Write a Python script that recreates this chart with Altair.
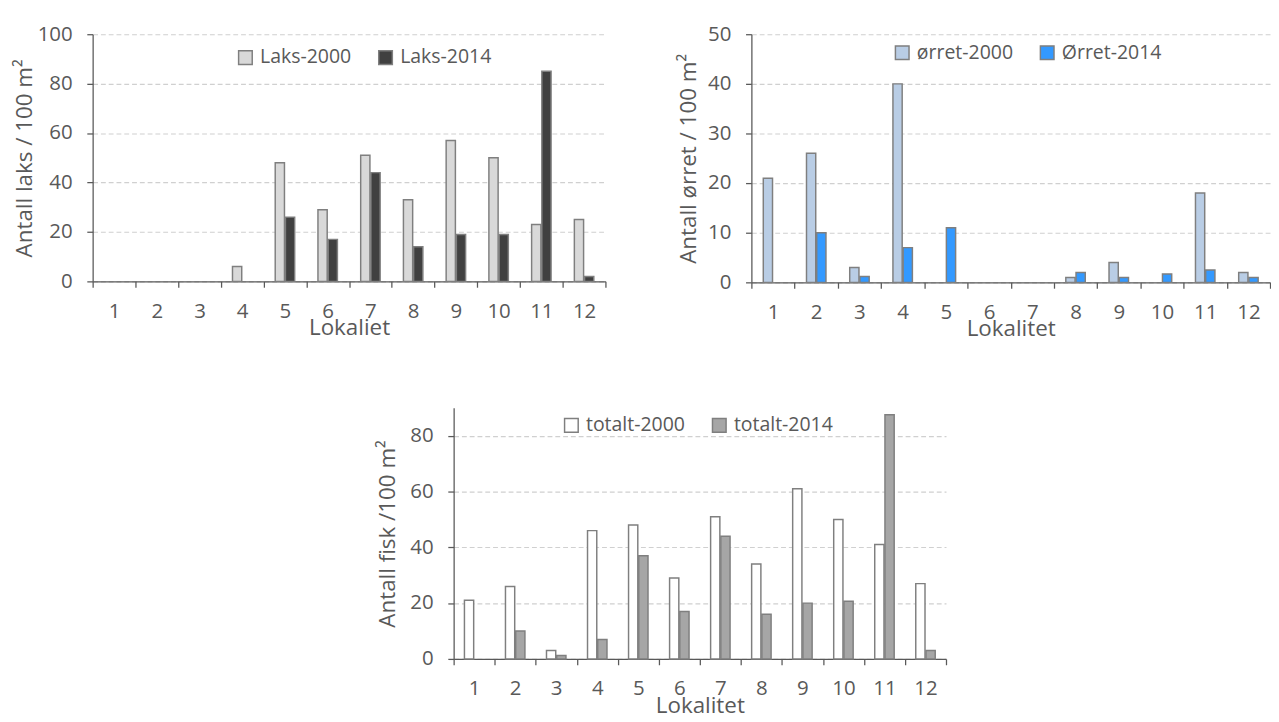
import altair as alt
import pandas as pd

lokaliteter = list(range(1, 13))
laks_2000 = [0, 0, 0, 6, 48, 29, 51, 33, 57, 50, 23, 25]
laks_2014 = [0, 0, 0, 0, 26, 17, 44, 14, 19, 19, 85, 2]
orret_2000 = [21, 26, 3, 40, 0, 0, 0, 1, 4, 0, 18, 2]
orret_2014 = [0, 10, 1.2, 7, 11, 0, 0, 2, 1, 1.7, 2.5, 1]
totalt_2000 = [21, 26, 3, 46, 48, 29, 51, 34, 61, 50, 41, 27]
totalt_2014 = [0, 10, 1.2, 7, 37, 17, 44, 16, 20, 20.7, 87.5, 3]

series_laks = ["Laks-2000", "Laks-2014"]
series_orret = ["ørret-2000", "Ørret-2014"]
series_totalt = ["totalt-2000", "totalt-2014"]

colors_laks = ["#d9d9d9", "#404040"]
colors_orret = ["#b9cde5", "#3399ff"]
colors_totalt = ["#ffffff", "#a6a6a6"]

ticks_laks = [0, 20, 40, 60, 80, 100]
ticks_orret = [0, 10, 20, 30, 40, 50]
ticks_totalt = [0, 20, 40, 60, 80]

TEXT = "#595959"
AXIS = "#595959"
FONT = "Open Sans"
BAR_W = 9.5
BAR_SHIFT = 5.25


def long(names, a, b):
    rows = []
    for i, l in enumerate(lokaliteter):
        rows.append({"Lokalitet": l, "Serie": names[0], "Verdi": a[i]})
        rows.append({"Lokalitet": l, "Serie": names[1], "Verdi": b[i]})
    return pd.DataFrame(rows)


def panel(df, series, colors, ytitle, xtitle, ymax, yticks, w, h,
          lx, ly, ytpad):
    base = (
        alt.Chart(df)
        .transform_filter("datum.Verdi > 0")
        .encode(
            x=alt.X(
                "Lokalitet:O",
                scale=alt.Scale(domain=lokaliteter, paddingInner=0, paddingOuter=0),
                axis=alt.Axis(
                    title=xtitle, labelAngle=0, tickBand="extent", tickSize=6,
                    tickColor=AXIS, tickWidth=1.3, domainColor=AXIS, domainWidth=1.3,
                    labelFontSize=21, labelColor=TEXT, labelPadding=14,
                    titleFontSize=23, titleFontWeight="normal", titleColor=TEXT,
                    titlePadding=-4, grid=False,
                ),
            ),
            y=alt.Y(
                "Verdi:Q",
                scale=alt.Scale(domain=[0, ymax], nice=False),
                axis=alt.Axis(
                    title=ytitle, values=yticks, tickSize=6, tickColor=AXIS,
                    tickWidth=1.3, domainColor=AXIS, domainWidth=1.3,
                    grid=True, gridDash=[5, 3], gridColor="#d0d0d0", gridWidth=1.2,
                    labelFontSize=21, labelColor=TEXT, labelPadding=15,
                    titleFontSize=23, titleFontWeight="normal", titleColor=TEXT,
                    titlePadding=ytpad,
                ),
            ),
            fill=alt.Fill(
                "Serie:N",
                scale=alt.Scale(domain=series, range=colors),
                legend=alt.Legend(
                    title=None, orient="none", legendX=lx, legendY=ly,
                    direction="horizontal", symbolType="square", symbolSize=196,
                    symbolStrokeColor="#7f7f7f", symbolStrokeWidth=1.5,
                    labelFontSize=20, labelColor=TEXT, labelOffset=5,
                    columnPadding=25, padding=0,
                ),
            ),
        )
    )
    b1 = base.transform_filter(alt.datum.Serie == series[0]).mark_bar(
        width=BAR_W, xOffset=-BAR_SHIFT, stroke="#7f7f7f", strokeWidth=1.5)
    b2 = base.transform_filter(alt.datum.Serie == series[1]).mark_bar(
        width=BAR_W, xOffset=BAR_SHIFT, stroke="#7f7f7f", strokeWidth=1.5)
    return alt.layer(b1, b2).properties(width=w, height=h)


left = panel(long(series_laks, laks_2000, laks_2014), series_laks, colors_laks,
             "Antall laks / 100 m²", "Lokaliet", 100, ticks_laks, 527, 254,
             147, 14, 1)
right = panel(long(series_orret, orret_2000, orret_2014), series_orret, colors_orret,
              "Antall ørret / 100 m²", "Lokalitet", 50, ticks_orret, 533, 255,
              145, 9, 7)
bottom = panel(long(series_totalt, totalt_2000, totalt_2014), series_totalt, colors_totalt,
               "Antall fisk /100 m²", "Lokalitet", 90, ticks_totalt, 506, 258,
               111, 8, 11)

spacer = (
    alt.Chart(pd.DataFrame({"s": [""]}))
    .mark_text()
    .encode(text="s:N")
    .properties(width=291, height=10)
)

top_row = alt.hconcat(left, right, spacing=73).resolve_scale(
    fill="independent", x="independent", y="independent")
bottom_row = alt.hconcat(spacer, bottom, spacing=0).resolve_scale(fill="independent")

chart = (
    alt.vconcat(top_row, bottom_row, spacing=68)
    .resolve_scale(fill="independent", x="independent", y="independent")
    .properties(padding={"left": 5, "top": 6, "right": 0, "bottom": 0})
    .configure(font=FONT)
    .configure_view(strokeWidth=0)
)

chart.save("out.html", embed_options={"renderer": "svg", "actions": False})
